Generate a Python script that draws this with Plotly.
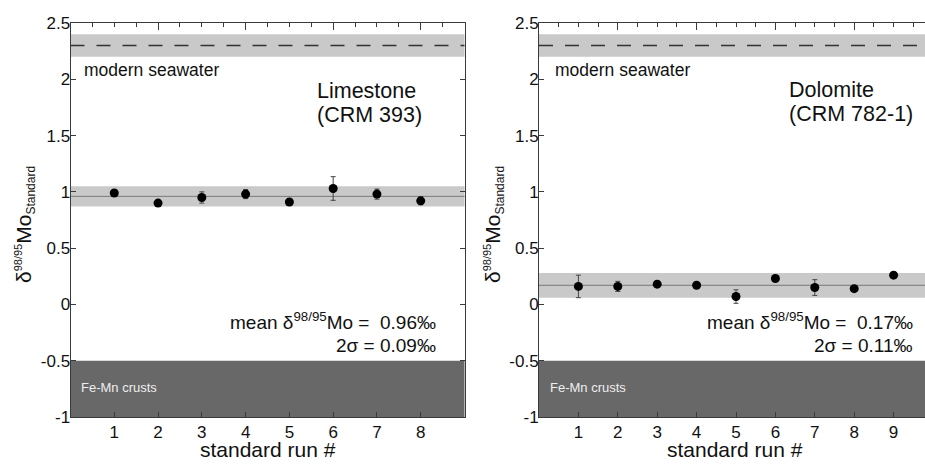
import plotly.graph_objects as go

# ---------------- data ----------------
runs_lime = [1, 2, 3, 4, 5, 6, 7, 8]
delta_lime = [0.99, 0.90, 0.95, 0.98, 0.91, 1.03, 0.98, 0.92]
err_lime = [0.02, 0.02, 0.05, 0.04, 0.02, 0.105, 0.045, 0.035]

runs_dolo = [1, 2, 3, 4, 5, 6, 7, 8, 9]
delta_dolo = [0.16, 0.16, 0.18, 0.17, 0.07, 0.23, 0.15, 0.14, 0.26]
err_dolo = [0.10, 0.045, 0.02, 0.02, 0.06, 0.02, 0.07, 0.02, 0.02]

mean_lime, sigma_lime = 0.96, 0.09
mean_dolo, sigma_dolo = 0.17, 0.11
seawater_mean, seawater_half = 2.3, 0.1
femn_low, femn_high = -1.0, -0.5

y_ticks = [-1, -0.5, 0, 0.5, 1, 1.5, 2, 2.5]
y_ticktext = ["-1", "-0.5", "0", "0.5", "1", "1.5", "2", "2.5"]
top_minor = [0, 0.5, 1, 1.5, 2, 2.5, 3, 3.5, 4, 4.5, 5, 5.5, 6, 6.5, 7, 7.5, 8, 8.5, 9, 9.5, 10]
top_major = [0, 2, 4, 6, 8, 10]

# ---------------- geometry helpers ----------------
W, H = 925, 465
def px(x):
    return x / W
def py(y):
    return 1 - y / H

FONT = "Liberation Sans, Arial, Helvetica, sans-serif"
AX = "#3a3a3a"
BAND = "#c9c9c9"
DARK = "#686868"

fig = go.Figure()

err_style = dict(type="data", thickness=1, width=2.5, color="#444444")
fig.add_trace(go.Scatter(
    x=runs_lime, y=delta_lime, mode="markers",
    marker=dict(color="black", size=9),
    error_y=dict(array=err_lime, **err_style),
    xaxis="x", yaxis="y", showlegend=False, cliponaxis=False))
fig.add_trace(go.Scatter(
    x=runs_dolo, y=delta_dolo, mode="markers",
    marker=dict(color="black", size=9),
    error_y=dict(array=err_dolo, **err_style),
    xaxis="x2", yaxis="y2", showlegend=False, cliponaxis=False))
# invisible helper traces so the overlay (top / right) axes are created
for xa, ya in [("x3", "y"), ("x4", "y2"), ("x5", "y"), ("x6", "y2"), ("x", "y3")]:
    fig.add_trace(go.Scatter(x=[None], y=[None], mode="markers", xaxis=xa, yaxis=ya,
                             showlegend=False, hoverinfo="skip"))

shapes = []
for xr, yr, m, s in [("x", "y", mean_lime, sigma_lime), ("x2", "y2", mean_dolo, sigma_dolo)]:
    xd = xr + " domain"
    shapes += [
        dict(type="rect", xref=xd, yref=yr, x0=0, x1=1,
             y0=seawater_mean - seawater_half, y1=seawater_mean + seawater_half,
             fillcolor=BAND, line=dict(width=0), layer="below"),
        dict(type="line", xref=xd, yref=yr, x0=0, x1=1,
             y0=seawater_mean, y1=seawater_mean,
             line=dict(color="#333333", width=1.5, dash="14px,12px"), layer="below"),
        dict(type="rect", xref=xd, yref=yr, x0=0, x1=1, y0=femn_low, y1=femn_high,
             fillcolor=DARK, line=dict(width=0), layer="below"),
        dict(type="rect", xref=xd, yref=yr, x0=0, x1=1, y0=m - s, y1=m + s,
             fillcolor=BAND, line=dict(width=0), layer="below"),
        dict(type="line", xref=xd, yref=yr, x0=0, x1=1, y0=m, y1=m,
             line=dict(color="#7a7a7a", width=1), layer="below"),
    ]

ydom = [py(417), py(23)]
xdom1 = [px(70.5), px(464.5)]
xdom2 = [px(539), 1.0]
xr1 = [0, 9]
xr2 = [0, (925 - 539) / 39.4]

def xbottom(dom, rng, vals, anchor):
    return dict(domain=dom, range=rng, anchor=anchor, tickvals=vals,
                ticktext=[str(v) for v in vals], ticks="inside", ticklen=5,
                tickcolor=AX, tickwidth=1, showline=True, linecolor=AX, linewidth=1,
                showgrid=False, zeroline=False, layer="above traces",
                tickfont=dict(family=FONT, size=17, color="#111"))

def xtop(over, rng, anchor, vals, ln):
    return dict(overlaying=over, side="top", anchor=anchor, range=rng,
                tickvals=[v for v in vals if v <= rng[1]],
                ticks="inside", ticklen=ln, tickcolor=AX, tickwidth=1,
                showticklabels=False, showline=True, linecolor=AX, linewidth=1,
                showgrid=False, zeroline=False, layer="above traces")

def yleft(anchor):
    return dict(domain=ydom, range=[-1, 2.5], anchor=anchor, tickvals=y_ticks,
                ticktext=y_ticktext, ticks="inside", ticklen=5, tickcolor=AX,
                tickwidth=1, showline=True, linecolor=AX, linewidth=1, showgrid=False,
                zeroline=False, layer="above traces", ticklabelstandoff=-4,
                tickfont=dict(family=FONT, size=17, color="#111"))

layout = dict(
    width=W, height=H, margin=dict(l=0, r=0, t=0, b=0, autoexpand=False),
    paper_bgcolor="white", plot_bgcolor="white",
    xaxis=xbottom(xdom1, xr1, runs_lime, "y"),
    xaxis2=xbottom(xdom2, xr2, runs_dolo, "y2"),
    xaxis3=xtop("x", xr1, "y", top_minor, 4),
    xaxis4=xtop("x2", xr2, "y2", top_minor, 4),
    xaxis5=xtop("x", xr1, "y", top_major, 7),
    xaxis6=xtop("x2", xr2, "y2", top_major, 7),
    yaxis=yleft("x"),
    yaxis2=yleft("x2"),
    yaxis3=dict(overlaying="y", side="right", anchor="x", range=[-1, 2.5],
                tickvals=y_ticks, ticks="inside", ticklen=5, tickcolor=AX, tickwidth=1,
                showticklabels=False, showline=True, linecolor=AX, linewidth=1,
                showgrid=False, zeroline=False, layer="above traces"),
    shapes=shapes,
    showlegend=False,
)
fig.update_layout(**layout)

def ann(text, x, y, size, xanchor="left", color="#111", angle=0):
    return dict(text=text, x=px(x), y=py(y), xref="paper", yref="paper",
                xanchor=xanchor, yanchor="middle", showarrow=False,
                textangle=angle, font=dict(family=FONT, size=size, color=color))

ytitle = ("δ<sup><span style='font-size:11px'>98/95</span></sup>Mo"
          "<sub><span style='font-size:12px'>Standard</span></sub>")
anns = [
    ann("modern seawater", 82, 70, 17.5),
    ann("Limestone", 315, 91, 21.5),
    ann("(CRM 393)", 315, 115, 21.5),
    ann("mean δ<sup>98/95</sup>Mo =\u00a0\u00a00.96‰", 438, 321, 19, "right"),
    ann("2σ = 0.09‰", 438, 345, 19, "right"),
    ann("Fe-Mn crusts", 79, 387, 13, color="#eeeeee"),
    ann("modern seawater", 553, 70, 17.5),
    ann("Dolomite", 787, 90, 21.5),
    ann("(CRM 782-1)", 787, 114, 21.5),
    ann("mean δ<sup>98/95</sup>Mo =\u00a0\u00a00.17‰", 915, 321, 19, "right"),
    ann("2σ = 0.11‰", 915, 345, 19, "right"),
    ann("Fe-Mn crusts", 548, 387, 13, color="#eeeeee"),
    ann(ytitle, 25, 225, 21, "center", angle=-90),
    ann(ytitle, 494, 225, 21, "center", angle=-90),
    ann("standard run #", 268, 449, 21, "center"),
    ann("standard run #", 735, 449, 21, "center"),
]
fig.update_layout(annotations=anns)

fig.write_html(
    "out.html",
    config={"displayModeBar": False},
    post_script="document.body.style.margin='0';document.body.style.overflow='hidden';",
)
